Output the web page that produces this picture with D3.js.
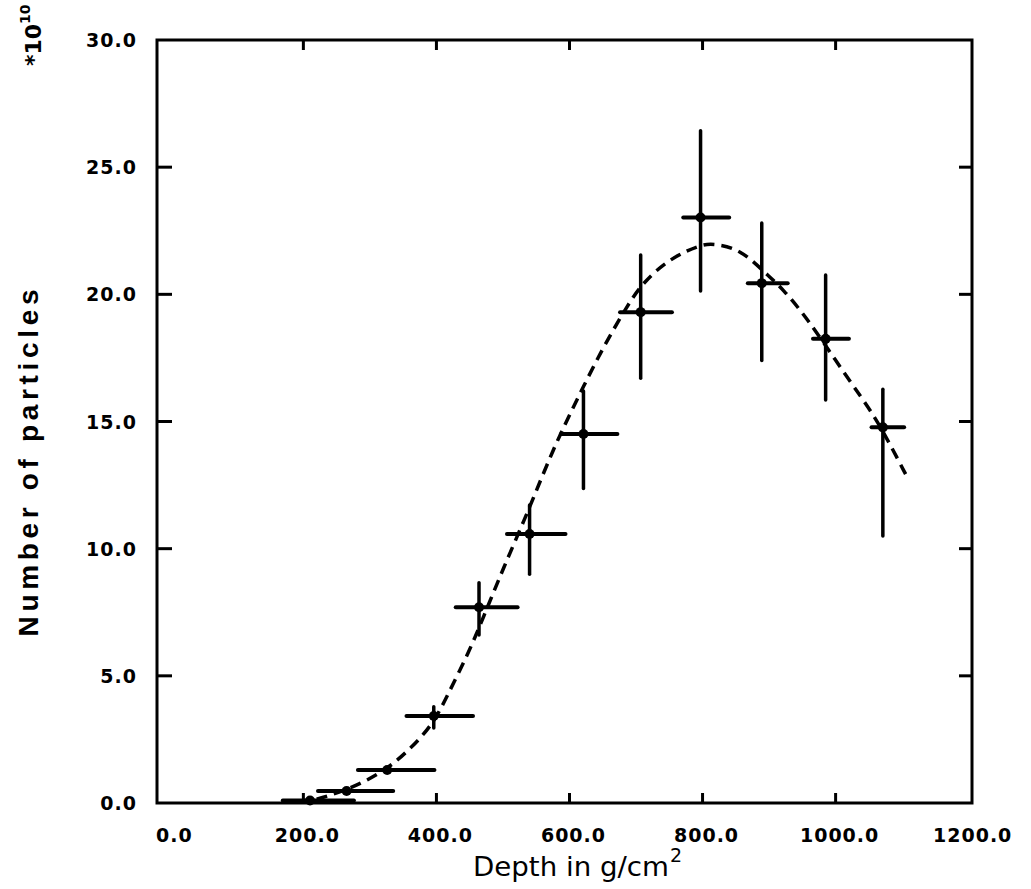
<!DOCTYPE html>
<html>
<head>
<meta charset="utf-8">
<script src="https://cdn.jsdelivr.net/npm/d3@7"></script>
<style>
  body { margin: 0; background: #fff; }
  svg { display: block; }
</style>
</head>
<body>
<div id="chart"></div>
<script>
// measured points (depth in g/cm2, particles in units of 1e10)
var depth     = [210, 265, 326, 396, 464, 540, 621, 707, 797, 889, 985, 1071];
var particles = [0.1, 0.47, 1.3, 3.42, 7.7, 10.58, 14.51, 19.3, 23.02, 20.44, 18.25, 14.77];
var depthLo   = [169, 222, 282, 355, 429, 506, 587, 676, 771, 868, 966, 1054];
var depthHi   = [276, 335, 397, 455, 522, 594, 672, 754, 840, 928, 1020, 1103];
var partLo    = [0.1, 0.47, 1.3, 2.95, 6.61, 8.99, 12.37, 16.7, 20.13, 17.4, 15.85, 10.5];
var partHi    = [0.1, 0.47, 1.3, 3.78, 8.66, 11.72, 16.2, 21.55, 26.43, 22.8, 20.76, 16.27];

// fitted curve
var fitDepth = [220, 265, 320, 360, 395, 417, 450, 470, 500, 540, 575, 611, 650, 688, 710, 750, 796, 815, 856, 896, 921, 956, 1000, 1040, 1066, 1109];
var fitPart  = [0.15, 0.5, 1.2, 2.1, 3.1, 4.25, 6.0, 7.27, 9.2, 11.6, 13.9, 15.85, 17.9, 19.6, 20.45, 21.4, 21.94, 22.0, 21.8, 20.8, 20.2, 19.1, 17.4, 15.9, 14.9, 12.74];

var xTicks = [200, 400, 600, 800, 1000];
var xLabels = [0, 200, 400, 600, 800, 1000, 1200];
var yTicks = [5, 10, 15, 20, 25];
var yLabels = [0, 5, 10, 15, 20, 25, 30];

var svg = d3.select("#chart")
    .append("svg")
    .attr("width", 1031)
    .attr("height", 889);

var x = d3.scaleLinear().domain([-20, 1205]).range([157, 972]);
var y = d3.scaleLinear().domain([0, 30]).range([803, 40]);

var tickFont = "'DejaVu Sans', sans-serif";

// frame
svg.append("rect")
    .attr("x", 157).attr("y", 40)
    .attr("width", 972 - 157).attr("height", 803 - 40)
    .attr("fill", "none")
    .attr("stroke", "#000")
    .attr("stroke-width", 3);

// inward ticks
svg.selectAll(".ytl").data(yTicks).enter().append("line")
    .attr("x1", 157).attr("x2", 172)
    .attr("y1", d => y(d)).attr("y2", d => y(d))
    .attr("stroke", "#000").attr("stroke-width", 3);
svg.selectAll(".ytr").data(yTicks).enter().append("line")
    .attr("x1", 972).attr("x2", 959)
    .attr("y1", d => y(d)).attr("y2", d => y(d))
    .attr("stroke", "#000").attr("stroke-width", 3);
svg.selectAll(".xtb").data(xTicks).enter().append("line")
    .attr("x1", d => x(d)).attr("x2", d => x(d))
    .attr("y1", 803).attr("y2", 793)
    .attr("stroke", "#000").attr("stroke-width", 3);
svg.selectAll(".xtt").data(xTicks).enter().append("line")
    .attr("x1", d => x(d)).attr("x2", d => x(d))
    .attr("y1", 40).attr("y2", 50)
    .attr("stroke", "#000").attr("stroke-width", 3);

// tick labels
svg.selectAll(".xlab").data(xLabels).enter().append("text")
    .attr("x", d => x(d) + 4)
    .attr("y", 842)
    .attr("text-anchor", "middle")
    .style("font-family", tickFont)
    .style("font-weight", "bold")
    .style("font-size", "19px")
    .style("letter-spacing", "1px")
    .text(d => d3.format(".1f")(d));

svg.selectAll(".ylab").data(yLabels).enter().append("text")
    .attr("x", 137)
    .attr("y", d => y(d) + 7)
    .attr("text-anchor", "end")
    .style("font-family", tickFont)
    .style("font-weight", "bold")
    .style("font-size", "19px")
    .style("letter-spacing", "1px")
    .text(d => d3.format(".1f")(d));

// axis titles
svg.append("text")
    .attr("x", 473).attr("y", 876)
    .attr("textLength", 196)
    .attr("lengthAdjust", "spacingAndGlyphs")
    .style("font-family", "'DejaVu Sans', sans-serif")
    .style("font-size", "27px")
    .text("Depth in g/cm");
svg.append("text")
    .attr("x", 670).attr("y", 862)
    .style("font-family", "'DejaVu Sans', sans-serif")
    .style("font-size", "19px")
    .text("2");

svg.append("text")
    .attr("transform", "translate(38,463) rotate(-90)")
    .attr("text-anchor", "middle")
    .attr("textLength", 347)
    .attr("lengthAdjust", "spacing")
    .style("font-family", "'Liberation Sans', Arial, sans-serif")
    .style("font-weight", "bold")
    .style("font-size", "28px")
    .text("Number of particles");

// multiplier *10^10
var mult = svg.append("text")
    .attr("transform", "translate(41,66) rotate(-90)")
    .style("font-family", tickFont)
    .style("font-weight", "bold")
    .style("font-size", "22px");
mult.append("tspan").text("*10");
mult.append("tspan").attr("dy", -11).style("font-size", "14px").text("10");

// fitted curve
var fitData = d3.zip(fitDepth, fitPart);
svg.append("path")
    .datum(fitData)
    .attr("fill", "none")
    .attr("stroke", "#000")
    .attr("stroke-width", 3.5)
    .attr("stroke-dasharray", "11,7")
    .attr("d", d3.line()
        .x(d => x(d[0]))
        .y(d => y(d[1]))
        .curve(d3.curveBasis));

// error bars and points
var pts = depth.map((d, i) => ({
    x: d, y: particles[i], xl: depthLo[i], xh: depthHi[i], yl: partLo[i], yh: partHi[i]
}));

svg.selectAll(".hbar").data(pts).enter().append("line")
    .attr("x1", d => x(d.xl)).attr("x2", d => x(d.xh))
    .attr("y1", d => y(d.y)).attr("y2", d => y(d.y))
    .attr("stroke", "#000").attr("stroke-width", 4)
    .attr("stroke-linecap", "round");

svg.selectAll(".vbar").data(pts.filter(d => d.yh > d.yl)).enter().append("line")
    .attr("x1", d => x(d.x)).attr("x2", d => x(d.x))
    .attr("y1", d => y(d.yl)).attr("y2", d => y(d.yh))
    .attr("stroke", "#000").attr("stroke-width", 3.5)
    .attr("stroke-linecap", "round");

svg.selectAll(".pt").data(pts).enter().append("circle")
    .attr("cx", d => x(d.x))
    .attr("cy", d => y(d.y))
    .attr("r", 5)
    .attr("fill", "#000");
</script>
</body>
</html>
